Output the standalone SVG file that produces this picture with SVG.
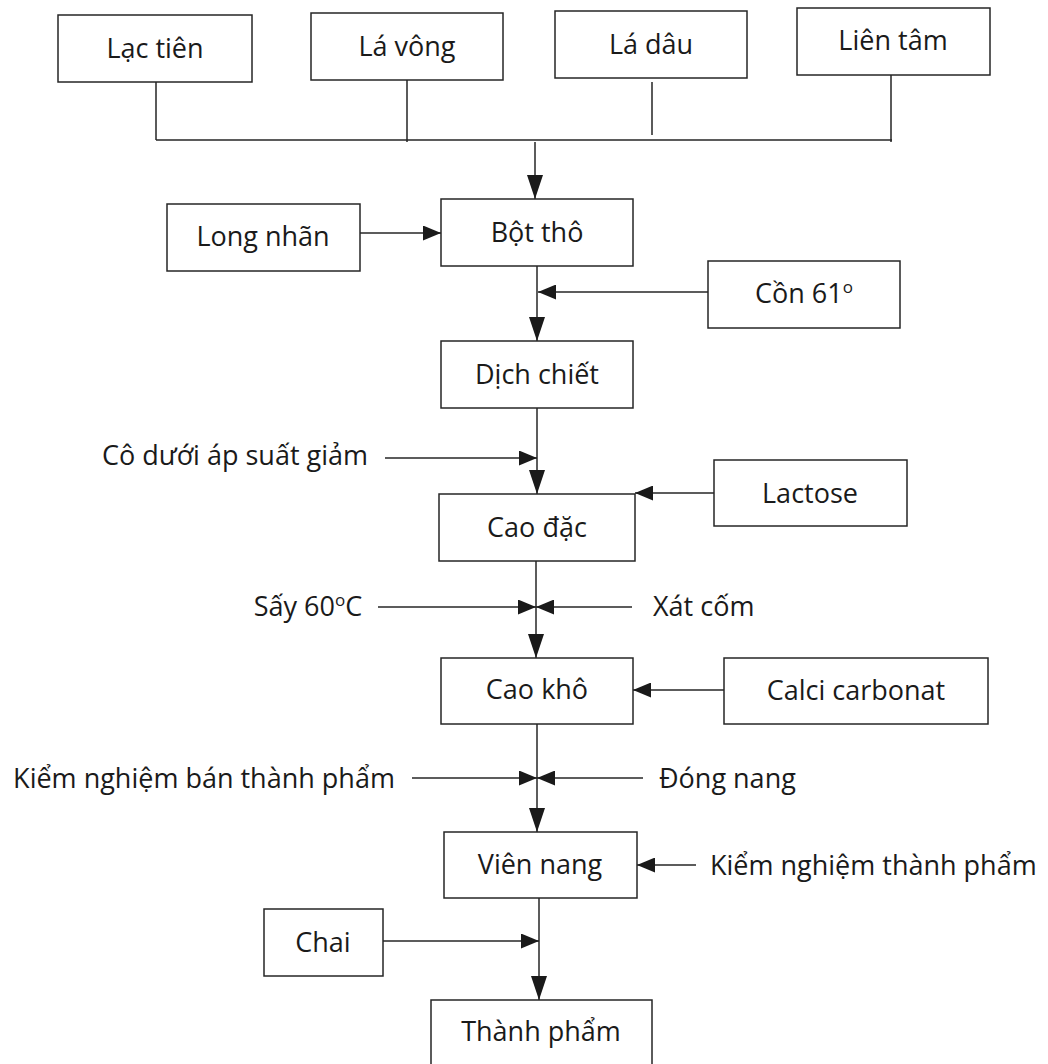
<svg xmlns="http://www.w3.org/2000/svg" width="1048" height="1064" viewBox="0 0 1048 1064">
<style>
  .box { fill: #ffffff; stroke: #262626; stroke-width: 1.5; }
  .t { font-family: "Open Sans", "Noto Sans", "DejaVu Sans", sans-serif; font-size: 27px; fill: #1a1a1a; }
  .c { text-anchor: middle; }
  .ln { fill: none; stroke: #262626; stroke-width: 1.5; }
  .sup { font-size: 17px; }
</style>
<defs>
  <marker id="ah" markerUnits="userSpaceOnUse" markerWidth="19" markerHeight="15" refX="18" refY="7.5" orient="auto">
    <path d="M0,0 L18,7.5 L0,15 z" fill="#1a1a1a"/>
  </marker>
  <marker id="ahd" markerUnits="userSpaceOnUse" markerWidth="25" markerHeight="16" refX="24" refY="8" orient="auto">
    <path d="M0,0 L24,8 L0,16 z" fill="#1a1a1a"/>
  </marker>
</defs>
<rect width="1048" height="1064" fill="#ffffff"/>

<g id="connectors">
  <path class="ln" d="M156,82 V140 M407,80 V142 M652,82 V135 M891,68 V142 M156,140 H892"/>
  <path class="ln" d="M535,142 V199" marker-end="url(#ahd)"/>
  <path class="ln" d="M360,233 H441" marker-end="url(#ah)"/>
  <path class="ln" d="M537,266 V341" marker-end="url(#ahd)"/>
  <path class="ln" d="M708,292 H538" marker-end="url(#ah)"/>
  <path class="ln" d="M537,408 V494" marker-end="url(#ahd)"/>
  <path class="ln" d="M385,458 H537" marker-end="url(#ah)"/>
  <path class="ln" d="M714,493 H635" marker-end="url(#ah)"/>
  <path class="ln" d="M536,561 V658" marker-end="url(#ahd)"/>
  <path class="ln" d="M378,607 H536" marker-end="url(#ah)"/>
  <path class="ln" d="M632,607 H536" marker-end="url(#ah)"/>
  <path class="ln" d="M724,690 H633" marker-end="url(#ah)"/>
  <path class="ln" d="M537,724 V832" marker-end="url(#ahd)"/>
  <path class="ln" d="M412,778 H537" marker-end="url(#ah)"/>
  <path class="ln" d="M643,778 H537" marker-end="url(#ah)"/>
  <path class="ln" d="M696,865 H637" marker-end="url(#ah)"/>
  <path class="ln" d="M539,898 V1000" marker-end="url(#ahd)"/>
  <path class="ln" d="M383,941 H539" marker-end="url(#ah)"/>
</g>

<g id="lac-tien"><rect class="box" x="58" y="15" width="194" height="67"/><text class="t c" x="155" y="58">Lạc tiên</text></g>
<g id="la-vong"><rect class="box" x="311" y="13" width="192" height="67"/><text class="t c" x="407" y="56">Lá vông</text></g>
<g id="la-dau"><rect class="box" x="555" y="11" width="192" height="67"/><text class="t c" x="651" y="54">Lá dâu</text></g>
<g id="lien-tam"><rect class="box" x="797" y="8" width="193" height="67"/><text class="t c" x="893" y="50">Liên tâm</text></g>
<g id="long-nhan"><rect class="box" x="167" y="204" width="193" height="67"/><text class="t c" x="263" y="246">Long nhãn</text></g>
<g id="bot-tho"><rect class="box" x="441" y="199" width="192" height="67"/><text class="t c" x="537" y="242">Bột thô</text></g>
<g id="con-61"><rect class="box" x="708" y="261" width="192" height="67"/><text class="t c" x="804" y="303">Cồn 61<tspan class="sup" dy="-10">o</tspan></text></g>
<g id="dich-chiet"><rect class="box" x="441" y="341" width="192" height="67"/><text class="t c" x="537" y="384">Dịch chiết</text></g>
<g id="co-duoi-ap-suat-giam"><text class="t c" x="235" y="465">Cô dưới áp suất giảm</text></g>
<g id="cao-dac"><rect class="box" x="439" y="494" width="196" height="67"/><text class="t c" x="537" y="537">Cao đặc</text></g>
<g id="lactose"><rect class="box" x="714" y="460" width="193" height="66"/><text class="t c" x="810" y="503">Lactose</text></g>
<g id="say-60c"><text class="t c" x="308" y="616">Sấy 60<tspan class="sup" dy="-10">o</tspan><tspan dy="10">C</tspan></text></g>
<g id="xat-com"><text class="t" x="653" y="616">Xát cốm</text></g>
<g id="cao-kho"><rect class="box" x="441" y="658" width="192" height="66"/><text class="t c" x="537" y="699">Cao khô</text></g>
<g id="calci-carbonat"><rect class="box" x="724" y="658" width="264" height="66"/><text class="t c" x="856" y="700">Calci carbonat</text></g>
<g id="kiem-nghiem-ban-thanh-pham"><text class="t c" x="204" y="788">Kiểm nghiệm bán thành phẩm</text></g>
<g id="dong-nang"><text class="t" x="659" y="788">Đóng nang</text></g>
<g id="vien-nang"><rect class="box" x="444" y="832" width="193" height="66"/><text class="t c" x="540" y="874">Viên nang</text></g>
<g id="kiem-nghiem-thanh-pham"><text class="t" x="710" y="875">Kiểm nghiệm thành phẩm</text></g>
<g id="chai"><rect class="box" x="264" y="909" width="119" height="67"/><text class="t c" x="323" y="952">Chai</text></g>
<g id="thanh-pham"><rect class="box" x="431" y="1000" width="221" height="80"/><text class="t c" x="541" y="1041">Thành phẩm</text></g>
</svg>
